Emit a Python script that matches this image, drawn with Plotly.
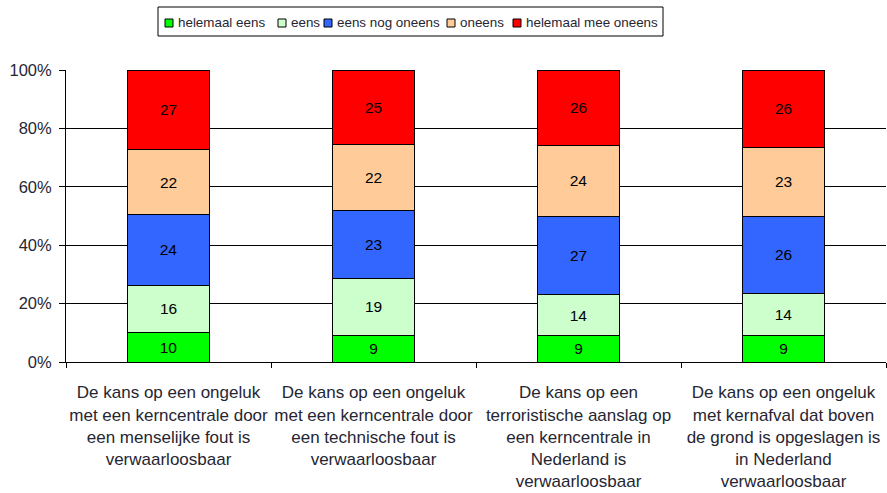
import plotly.graph_objects as go

# Statements (x-axis categories)
categories = [
    "De kans op een ongeluk<br>met een kerncentrale door<br>een menselijke fout is<br>verwaarloosbaar",
    "De kans op een ongeluk<br>met een kerncentrale door<br>een technische fout is<br>verwaarloosbaar",
    "De kans op een<br>terroristische aanslag op<br>een kerncentrale in<br>Nederland is<br>verwaarloosbaar",
    "De kans op een ongeluk<br>met kernafval dat boven<br>de grond is opgeslagen is<br>in Nederland<br>verwaarloosbaar",
]

# Answer shares per statement (percent)
helemaal_eens = [10, 9, 9, 9]
eens = [16, 19, 14, 14]
eens_nog_oneens = [24, 23, 27, 26]
oneens = [22, 22, 24, 23]
helemaal_mee_oneens = [27, 25, 26, 26]

series_names = ["helemaal eens", "eens", "eens nog oneens", "oneens", "helemaal mee oneens"]
series_values = [helemaal_eens, eens, eens_nog_oneens, oneens, helemaal_mee_oneens]
series_colors = ["#00FF00", "#CCFFCC", "#3366FF", "#FFCC99", "#FF0000"]

y_ticks = [0, 20, 40, 60, 80, 100]
y_tick_labels = ["0%", "20%", "40%", "60%", "80%", "100%"]

FONT = "Liberation Sans, Arial, sans-serif"
TEXT_COLOR = "#262633"

W, H = 887, 493
M_L, M_R, M_T, M_B = 66, 1, 70, 131
PLOT_W = W - M_L - M_R
PLOT_H = H - M_T - M_B


def px_to_paper_x(px):
    return (px - M_L) / PLOT_W


def px_to_paper_y(py):
    return (H - M_B - py) / PLOT_H


fig = go.Figure()
for name, values, color in zip(series_names, series_values, series_colors):
    fig.add_trace(go.Bar(
        name=name,
        x=categories,
        y=values,
        marker=dict(color=color, line=dict(color="black", width=1)),
        text=[str(v) for v in values],
        textposition="inside",
        insidetextanchor="middle",
        textangle=0,
        textfont=dict(color="black", size=15.5, family=FONT),
        width=0.4,
        showlegend=False,
    ))

# Compact boxed legend across the top
legend_box = (158, 7, 663, 36)  # left, top, right, bottom in pixels
legend_item_x = [165, 278, 324, 447, 513]  # swatch left edge of each entry
swatch = 8
legend_mid = 23

shapes = [dict(
    type="rect", xref="paper", yref="paper",
    x0=px_to_paper_x(legend_box[0]), x1=px_to_paper_x(legend_box[2]),
    y0=px_to_paper_y(legend_box[3]), y1=px_to_paper_y(legend_box[1]),
    line=dict(color="black", width=1), fillcolor="white", layer="above",
)]
annotations = []
for name, color, lx in zip(series_names, series_colors, legend_item_x):
    shapes.append(dict(
        type="rect", xref="paper", yref="paper",
        x0=px_to_paper_x(lx), x1=px_to_paper_x(lx + swatch),
        y0=px_to_paper_y(legend_mid + swatch / 2), y1=px_to_paper_y(legend_mid - swatch / 2),
        line=dict(color="black", width=1), fillcolor=color, layer="above",
    ))
    annotations.append(dict(
        text=name, xref="paper", yref="paper",
        x=px_to_paper_x(lx + swatch + 3), y=px_to_paper_y(legend_mid),
        xanchor="left", yanchor="middle", showarrow=False,
        font=dict(size=13.4, color=TEXT_COLOR, family=FONT),
    ))

fig.update_layout(
    barmode="stack",
    barnorm="percent",
    width=W,
    height=H,
    margin=dict(l=M_L, r=M_R, t=M_T, b=M_B),
    plot_bgcolor="white",
    paper_bgcolor="white",
    font=dict(family=FONT, size=16.5, color=TEXT_COLOR),
    showlegend=False,
    shapes=shapes,
    annotations=annotations,
)

fig.update_yaxes(
    range=[0, 100],
    tickvals=y_ticks,
    ticktext=y_tick_labels,
    showgrid=True,
    gridcolor="black",
    gridwidth=1,
    showline=True,
    linecolor="black",
    linewidth=1,
    ticks="outside",
    ticklen=6,
    tickcolor="black",
    zeroline=False,
    tickfont=dict(size=16.5),
    ticklabelstandoff=4,
)

fig.update_xaxes(
    showline=True,
    linecolor="black",
    linewidth=1,
    ticks="outside",
    tickson="boundaries",
    ticklen=5,
    tickcolor="black",
    tickfont=dict(size=17),
    tickangle=0,
    ticklabelstandoff=15,
)

fig.write_html("out.html")
